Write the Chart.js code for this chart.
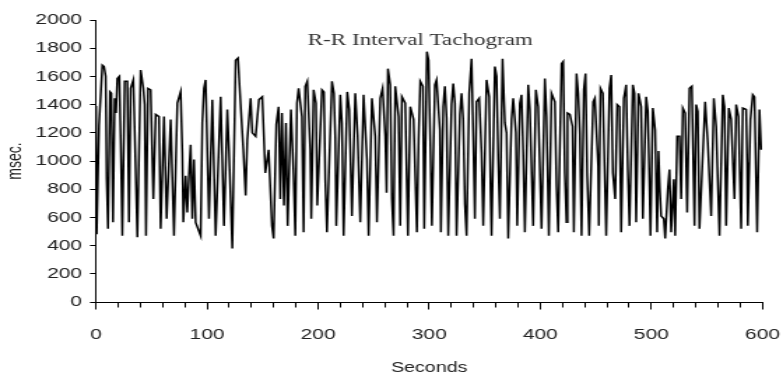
<!DOCTYPE html>
<html>
<head>
<meta charset="utf-8">
<script src="https://cdn.jsdelivr.net/npm/chart.js@4/dist/chart.umd.min.js"></script>
<style>
html,body{margin:0;padding:0;background:#fff;overflow:hidden;width:783px;height:377px;}
#wrap{position:absolute;left:0;top:0;width:560px;height:377px;transform:scaleX(1.39821);transform-origin:0 0;}
</style>
</head>
<body>
<div id="wrap"><canvas id="c"></canvas></div>
<script>
const chartTitle = 'R-R Interval Tachogram';
const xAxisTitle = 'Seconds';
const yAxisTitle = 'msec.';
const xTickValues = [0, 20, 40, 60, 80, 100, 120, 140, 160, 180, 200, 220, 240, 260, 280, 300, 320, 340, 360, 380, 400, 420, 440, 460, 480, 500, 520, 540, 560, 580, 600];
const xLabelledTicks = [0, 100, 200, 300, 400, 500, 600];
const yTickValues = [0, 200, 400, 600, 800, 1000, 1200, 1400, 1600, 1800, 2000];

const seconds = [
0,0.6,2.7,5.7,7.2,8.7,9.6,10.8,12.6,13.8,15.3,16.8,18,19.2,21,22.2,23.7,25.8,28.2,29.7,
31.2,33.6,34.8,37.2,40.2,42.6,43.8,45,46.8,49.2,51.6,53.7,56.7,58.2,61.2,63.6,67.2,70.2,73.2,76.2,
77.7,78.6,80.7,82.2,83.7,85.2,86.7,88.2,89.7,94.2,95.7,97.2,98.7,101.7,104.7,107.7,112.2,115.2,118.2,119.7,
122.7,125.7,127.8,130.2,132.6,134.7,136.2,139.2,140.7,143.7,146.7,149.7,
152.4,155.4,158.4,159.9,162.3,164.4,165.9,167.4,169.2,171,172.5,175.5,177.9,179.4,180.9,182.4,185.4,186.9,188.4,190.2,
192.9,193.8,195.9,198,199.2,203.4,205.2,206.4,207.9,212.4,214.2,215.4,216.3,219.9,221.4,222.9,226.2,228,230.4,233.4,
235.5,237.9,240.9,243.9,245.4,248.4,251.4,252.9,255.9,258,260.4,261.6,262.8,264.9,266.4,267.9,269.4,272.4,273.9,275.4,
278.4,280.8,282.9,285.9,288.9,290.4,291.9,294.3,295.5,297.9,299.4,300.9,302.4,
305.1,306.6,309.6,310.5,312.6,314.1,315.6,317.1,320.1,321.6,323.1,324.6,327.6,329.1,330.6,332.1,333.6,336,338.1,339.6,
341.1,342.6,345,347.1,348.6,351.6,354,355.2,356.1,359.1,360.6,362.1,363.6,366,368.1,369.6,371.1,374.1,375.6,378,
379.2,381.6,383.1,384.6,386.1,389.1,390.6,393.6,396,398.1,401.1,404.1,405.6,407.7,410.1,413.1,414.6,416.1,419.1,420.6,
422.1,423.6,424.5,426.6,429,430.2,432.6,434.1,435.6,437.1,439.2,440.7,442.2,444,447.6,449.1,452.1,
452.7,454.2,456.3,457.8,459.3,462.3,463.8,465.3,467.4,469.2,471.3,472.8,475.2,477.3,478.8,480.3,483.3,484.8,486.3,488.4,
490.8,492.3,495.3,496.8,498.3,499.2,501.3,503.4,505.2,506.4,507.6,508.8,511.2,512.4,514.8,516.3,517.8,520.2,521.4,523.2,
525.3,526.8,528.3,530.4,532.2,534.3,536.4,538.8,540.3,541.8,543.3,548.4,550.8,553.8,556.2,558.3,561.3,564.3,565.8,567.3,
569.7,571.8,574.8,576.3,578.4,580.8,582.3,585.3,586.2,586.8,589.2,591.3,592.8,595.2,597.3,598.8
];

const msec = [
1390,480,1250,1680,1670,1600,870,520,1490,1480,565,1445,1340,1585,1600,1150,470,1565,1565,565,
1515,1575,1220,460,1645,1515,1400,470,1515,1505,730,1330,1315,520,1315,590,1295,470,1410,1490,
1060,565,895,635,895,1115,590,1010,565,470,1270,1515,1575,590,1435,470,1455,540,1365,1080,
380,1715,1730,1400,1080,755,1150,1445,1200,1175,1435,1455,
915,1080,540,450,1260,1385,730,1340,685,1270,540,1365,895,470,1410,1515,1315,495,1530,1565,
1080,590,1505,1410,685,1505,1490,870,495,1565,1480,1165,540,1470,1270,470,1490,1365,610,1480,
1185,565,1470,1010,470,1445,1175,565,1445,1515,1175,775,1655,1540,730,470,1530,1315,540,1455,
1410,470,1385,1295,495,1150,1565,1530,520,1775,1715,1150,540,
1540,1575,1220,495,1385,1530,1305,470,1400,1550,1410,470,1330,1480,1295,695,470,1480,1725,1175,
590,1420,1445,1060,540,1575,1455,800,470,1670,1600,1010,590,1725,1270,1200,450,1295,1445,1200,
540,1410,1470,1060,495,1540,1365,540,1505,1385,520,1585,1315,470,1480,1420,825,495,1690,1705,
915,565,1340,1330,1245,495,1620,1480,1200,470,1505,1620,895,470,1420,1445,965,
540,1515,1480,965,470,1515,1610,915,730,1400,1385,495,1445,1540,940,540,1540,1480,565,1480,
1385,590,1455,1350,825,470,1375,1220,495,1070,800,610,590,450,800,940,495,870,470,1175,
1175,730,1375,1340,635,1515,1530,540,1400,1350,520,1420,1130,610,1445,1245,470,1470,1385,540,
1375,1295,730,1400,1315,520,1375,1365,990,540,1295,1470,1455,495,1365,1080
];

const points = seconds.map((s, i) => ({ x: s, y: msec[i] }));

const sansFont = '"Liberation Sans", Arial, Helvetica, sans-serif';
const serifFont = '"Liberation Serif", "Times New Roman", Times, serif';

const inPlotTitle = {
  id: 'inPlotTitle',
  afterDatasetsDraw(chart) {
    const ctx = chart.ctx;
    const xs = chart.scales.x;
    ctx.save();
    ctx.font = '16.5px ' + serifFont;
    ctx.fillStyle = '#333';
    ctx.textAlign = 'center';
    ctx.textBaseline = 'alphabetic';
    ctx.fillText(chartTitle, xs.getPixelForValue(292), 44.5);
    ctx.restore();
  }
};

const isLabelled = v => xLabelledTicks.indexOf(v) !== -1;

new Chart(document.getElementById('c'), {
  type: 'line',
  data: {
    datasets: [{
      data: points,
      borderColor: '#000',
      borderWidth: 1.5,
      pointRadius: 0,
      tension: 0,
      fill: false
    }]
  },
  options: {
    responsive: true,
    maintainAspectRatio: false,
    animation: false,
    events: [],
    layout: { padding: { left: 0, right: 14.7, top: 20, bottom: 0 } },
    plugins: { legend: { display: false }, tooltip: { enabled: false }, title: { display: false } },
    scales: {
      x: {
        type: 'linear',
        position: 'bottom',
        min: 0, max: 600,
        afterFit: s => { s.height = 75; },
        afterBuildTicks: s => { s.ticks = xTickValues.map(v => ({ value: v })); },
        ticks: {
          color: '#222',
          font: { family: sansFont, size: 15, lineHeight: '50px' },
          padding: 0, maxRotation: 0, autoSkip: false,
          callback: v => (isLabelled(v) ? String(v) : '')
        },
        grid: {
          drawOnChartArea: false, drawTicks: true, tickLength: 7.5, tickColor: '#000', tickWidth: 1,
          tickBorderDash: c => (c.tick && isLabelled(c.tick.value) ? [] : [4.5, 30])
        },
        border: { display: true, color: '#000', width: 1 },
        title: { display: true, text: xAxisTitle, color: '#222', font: { family: sansFont, size: 14 }, padding: { top: 0, bottom: 0 } }
      },
      y: {
        type: 'linear',
        min: 0, max: 2000,
        afterFit: s => { s.width = 68.66; },
        afterBuildTicks: s => { s.ticks = yTickValues.map(v => ({ value: v })); },
        ticks: { color: '#222', font: { family: sansFont, size: 15 }, padding: 5.7, autoSkip: false, callback: v => String(v) },
        grid: { drawOnChartArea: false, drawTicks: true, tickLength: 4.3, tickColor: '#000', tickWidth: 1 },
        border: { display: true, color: '#000', width: 1 },
        title: { display: true, text: yAxisTitle, color: '#222', font: { family: sansFont, size: 14 }, padding: { top: 3, bottom: 0 } }
      }
    }
  },
  plugins: [inPlotTitle]
});
</script>
</body>
</html>
